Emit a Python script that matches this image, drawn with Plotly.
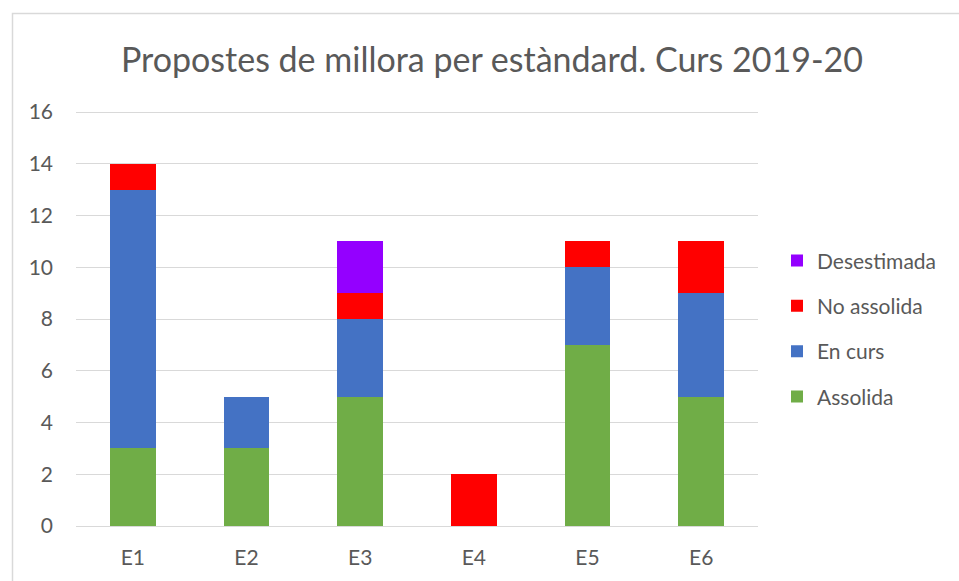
import plotly.graph_objects as go

categories = ["E1", "E2", "E3", "E4", "E5", "E6"]
assolida = [3, 3, 5, 0, 7, 5]
en_curs = [10, 2, 3, 0, 3, 4]
no_assolida = [1, 0, 1, 2, 1, 2]
desestimada = [0, 0, 2, 0, 0, 0]
y_ticks = [0, 2, 4, 6, 8, 10, 12, 14, 16]

series = [
    ("Assolida", assolida, "#70AD47"),
    ("En curs", en_curs, "#4472C4"),
    ("No assolida", no_assolida, "#FF0000"),
    ("Desestimada", desestimada, "#9400FF"),
]

FONT = "Lato"
TXT = "#595959"

fig = go.Figure()
for i, (name, vals, col) in enumerate(series):
    fig.add_trace(go.Bar(
        x=categories, y=vals, name=name, legendgroup=name,
        legendrank=len(series) - i,
        marker=dict(color=col, line=dict(width=0)),
    ))

L, R, T, B = 76, 959 - 758, 111, 581 - 528
W, H = 959 - L - R, 581 - T - B

bx0 = (12.5 - L) / W
bx1 = (1000 - L) / W
by0 = (528 - 600) / H
by1 = (528 - 13) / H
border_path = f"M {bx0},{by0} L {bx0},{by1} L {bx1},{by1}"

fig.update_layout(
    width=959, height=581,
    barmode="stack", bargap=0.6,
    margin=dict(l=L, r=R, t=T, b=B),
    paper_bgcolor="white", plot_bgcolor="white",
    font=dict(family=FONT, color=TXT, size=21),
    title=dict(text="Propostes de millora per estàndard. Curs 2019-20",
               x=492 / 959, xanchor="center", xref="container",
               y=1 - 60 / 581, yanchor="middle", yref="container",
               font=dict(family=FONT, size=34, color=TXT)),
    legend=dict(traceorder="grouped", tracegroupgap=15,
                x=(777 - L) / W, xanchor="left", y=(528 - 241) / H, yanchor="top",
                font=dict(size=21, color=TXT), bgcolor="rgba(0,0,0,0)",
                itemwidth=30),
    xaxis=dict(showgrid=False, showline=False, ticks="", ticklabelstandoff=17,
               tickfont=dict(size=21, color=TXT)),
    yaxis=dict(range=[0, 16.04], tickvals=y_ticks, showgrid=True, gridcolor="#D9D9D9",
               gridwidth=1, zeroline=True, zerolinecolor="#D9D9D9", zerolinewidth=1,
               showline=False, ticks="", ticklabelstandoff=22,
               tickfont=dict(size=21, color=TXT)),
    shapes=[dict(type="path", xref="paper", yref="paper", path=border_path,
                 line=dict(color="#D9D9D9", width=1.5), layer="below")],
)

fig.write_html("out.html",
               config={"displayModeBar": False},
               post_script="document.body.style.margin='0';document.body.style.overflow='hidden';")
